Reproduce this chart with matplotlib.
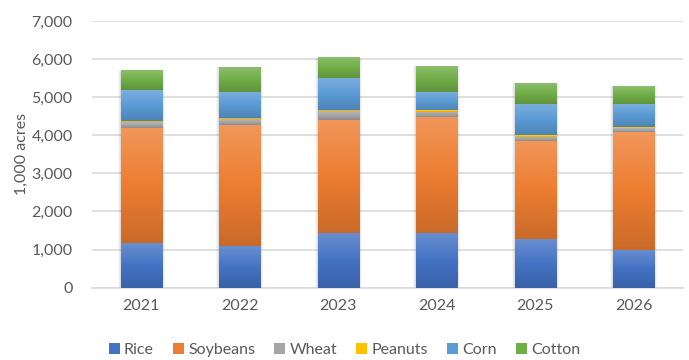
import numpy as np
import matplotlib
matplotlib.use("Agg")
import matplotlib.pyplot as plt
from matplotlib.colors import LinearSegmentedColormap, to_rgb
from matplotlib.patches import Patch, Rectangle

years = ["2021", "2022", "2023", "2024", "2025", "2026"]
rice = [1170, 1095, 1435, 1435, 1280, 1000]
soybeans = [3020, 3175, 2975, 3045, 2570, 3095]
wheat = [150, 150, 220, 140, 115, 100]
peanuts = [35, 35, 35, 45, 40, 25]
corn = [810, 685, 840, 475, 815, 605]
cotton = [500, 655, 525, 680, 550, 470]

series = [("Rice", rice, "#4472C4"), ("Soybeans", soybeans, "#ED7D31"),
          ("Wheat", wheat, "#A5A5A5"), ("Peanuts", peanuts, "#FFC000"),
          ("Corn", corn, "#5B9BD5"), ("Cotton", cotton, "#70AD47")]

plt.rcParams['font.family'] = ['Lato', 'DejaVu Sans']
FS = 11.5

fig = plt.figure(figsize=(6.89, 3.6), dpi=100)
ax = fig.add_axes([92/689, 1 - 287.7/360, (683-92)/689, (287.7-21)/360])

x = np.arange(len(years))
width = 0.42
bottom = np.zeros(len(years))

def shade(c, f):
    r = np.array(to_rgb(c))
    if f > 0:
        return tuple(r + (1 - r) * f)
    return tuple(r * (1 + f))

# soft shadow
totals = np.sum([s[1] for s in series], axis=0)
for xi, t in zip(x, totals):
    for k, a in [(0.03, 0.07), (0.02, 0.09), (0.01, 0.12)]:
        ax.add_patch(Rectangle((xi - width/2 - k, 0), width + 2*k, t + k*250,
                               facecolor="#808080", alpha=a, edgecolor="none", zorder=2))

for name, vals, col in series:
    bars = ax.bar(x, vals, width, bottom=bottom, color=col, label=name, zorder=3)
    cmap = LinearSegmentedColormap.from_list(name, [shade(col, -0.15), col, shade(col, 0.2)])
    grad = np.linspace(0, 1, 256).reshape(-1, 1)
    for b in bars:
        x0, y0 = b.get_x(), b.get_y()
        w, h = b.get_width(), b.get_height()
        ax.imshow(grad, extent=(x0, x0 + w, y0, y0 + h), origin="lower", cmap=cmap,
                  aspect="auto", zorder=4, interpolation="bilinear")
    bottom += np.array(vals)

ax.set_xlim(-0.5, len(years) - 0.5)
ax.set_ylim(0, 7000)
ax.set_yticks(np.arange(0, 7001, 1000))
ax.set_yticklabels([f"{v:,}" for v in range(0, 7001, 1000)])
ax.set_xticks(x)
ax.set_xticklabels(years)
ax.yaxis.grid(True, color="#D9D9D9", linewidth=1.2, zorder=0)
ax.set_axisbelow(True)
for s in ["top", "right", "left"]:
    ax.spines[s].set_visible(False)
ax.spines["bottom"].set_color("#D9D9D9")
ax.spines["bottom"].set_linewidth(1.2)
ax.tick_params(axis="both", length=0, colors="#595959", labelsize=FS)
ax.tick_params(axis="x", pad=8)
ax.tick_params(axis="y", pad=14)
ax.set_ylabel("1,000 acres", color="#595959", fontsize=FS, labelpad=2)

handles = [Patch(facecolor=c, label=n) for n, v, c in series]
fig.legend(handles=handles, loc="center", bbox_to_anchor=(0.5, 1 - 350/360), ncol=6,
           frameon=False, fontsize=FS, handlelength=0.7, handleheight=0.7,
           handletextpad=0.25, columnspacing=1.2, labelcolor="#595959")

fig.savefig("out.png", dpi=100)
